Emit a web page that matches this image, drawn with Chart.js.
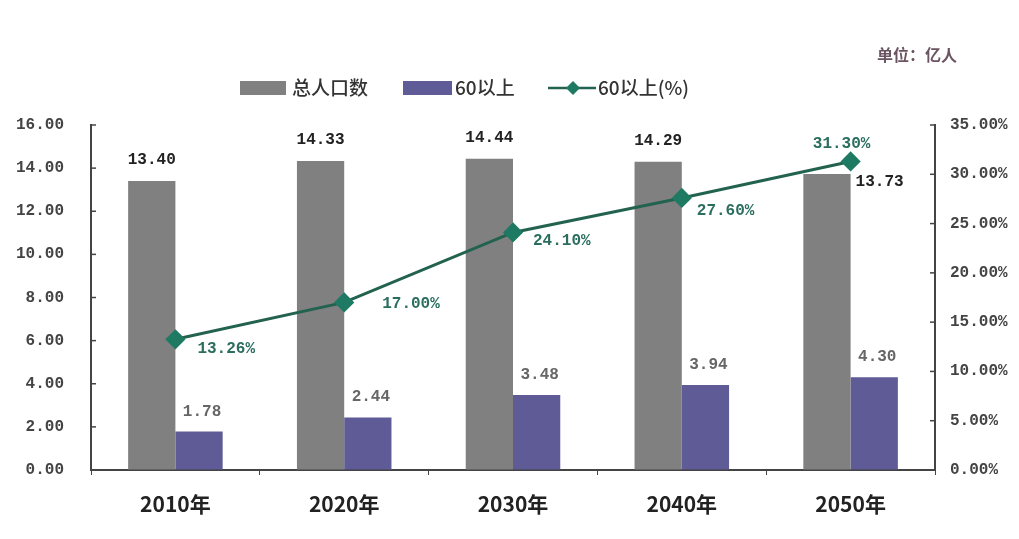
<!DOCTYPE html>
<html lang="zh">
<head>
    <meta charset="UTF-8">
    <title>人口老龄化</title>
    <script src="https://cdn.jsdelivr.net/npm/chart.js"></script>
    <style>
        body { margin: 0; background: #fff; }
        #wrap { width: 1019px; height: 539px; }
    </style>
</head>
<body>
    <div id="wrap">
        <canvas id="grafico" width="1019" height="539"></canvas>
    </div>

    <script>
        // datos
        const categorias = ['2010年', '2020年', '2030年', '2040年', '2050年'];
        const totalPoblacion = [13.40, 14.33, 14.44, 14.29, 13.73];
        const mayores60 = [1.78, 2.44, 3.48, 3.94, 4.30];
        const mayores60Pct = [13.26, 17.00, 24.10, 27.60, 31.30];
        const nombres = ['总人口数', '60以上', '60以上(%)'];
        const unidad = '单位：亿人';

        const GRIS = '#808080';
        const MORADO = '#5e5b97';
        const VERDE = '#22624f';
        const MARCA = '#1f7a63';
        const EJE = '#444';
        const MONO = '"Liberation Mono", "DejaVu Sans Mono", monospace';
        const CJK = '"Noto Sans CJK SC", "Noto Sans", sans-serif';

        // desplazamientos de las etiquetas de la linea (dx, dy, alineacion)
        const offLinea = [[22, 10, 'left'], [38, 2, 'left'], [20, 9, 'left'], [15, 13, 'left'], [-9, -18, 'center']];

        const fondo = {
            id: 'fondo',
            beforeDraw(chart) {
                const c = chart.ctx;
                c.save();
                c.fillStyle = '#fff';
                c.fillRect(0, 0, chart.width, chart.height);
                c.restore();
            }
        };

        // marcas de los ejes Y hacia dentro
        const marcasEjes = {
            id: 'marcasEjes',
            afterDraw(chart) {
                const c = chart.ctx;
                const area = chart.chartArea;
                c.save();
                c.strokeStyle = EJE;
                c.lineWidth = 1.5;
                chart.scales.y.ticks.forEach(t => {
                    const py = chart.scales.y.getPixelForValue(t.value);
                    c.beginPath();
                    c.moveTo(area.left, py);
                    c.lineTo(area.left + 5, py);
                    c.stroke();
                });
                chart.scales.y1.ticks.forEach(t => {
                    const py = chart.scales.y1.getPixelForValue(t.value);
                    c.beginPath();
                    c.moveTo(area.right, py);
                    c.lineTo(area.right - 5, py);
                    c.stroke();
                });
                c.restore();
            }
        };

        // leyenda y unidad dibujadas a mano
        const leyenda = {
            id: 'leyenda',
            afterDraw(chart) {
                const c = chart.ctx;
                c.save();
                c.textBaseline = 'middle';
                c.font = '500 19px ' + CJK;
                c.fillStyle = GRIS;
                c.fillRect(240, 81, 46, 14);
                c.fillStyle = '#333';
                c.fillText(nombres[0], 292, 88);

                c.fillStyle = MORADO;
                c.fillRect(403, 81, 49, 14);
                c.fillStyle = '#333';
                c.fillText(nombres[1], 455, 88);

                c.strokeStyle = VERDE;
                c.lineWidth = 2.5;
                c.beginPath();
                c.moveTo(548, 88);
                c.lineTo(596, 88);
                c.stroke();
                c.fillStyle = MARCA;
                c.beginPath();
                c.moveTo(573, 81); c.lineTo(580, 88); c.lineTo(573, 95); c.lineTo(566, 88);
                c.closePath();
                c.fill();
                c.fillStyle = '#333';
                c.fillText(nombres[2], 598, 88);

                c.font = 'bold 16px ' + CJK;
                c.fillStyle = '#6a5462';
                c.fillText(unidad, 877, 55);
                c.restore();
            }
        };

        // etiquetas de valores
        const etiquetas = {
            id: 'etiquetas',
            afterDatasetsDraw(chart) {
                const c = chart.ctx;
                c.save();
                c.font = 'bold 16px ' + MONO;
                c.textBaseline = 'middle';

                const m0 = chart.getDatasetMeta(0).data;
                m0.forEach((b, i) => {
                    c.fillStyle = '#222';
                    if (i === m0.length - 1) {
                        c.textAlign = 'left';
                        c.fillText(totalPoblacion[i].toFixed(2), b.x + b.width / 2 + 5, b.y + 8);
                    } else {
                        c.textAlign = 'center';
                        c.fillText(totalPoblacion[i].toFixed(2), b.x, b.y - 21);
                    }
                });

                const m1 = chart.getDatasetMeta(1).data;
                m1.forEach((b, i) => {
                    c.fillStyle = '#666';
                    c.textAlign = 'center';
                    c.fillText(mayores60[i].toFixed(2), b.x + 3, b.y - 20);
                });

                const m2 = chart.getDatasetMeta(2).data;
                m2.forEach((p, i) => {
                    const o = offLinea[i];
                    c.fillStyle = '#2b6e5f';
                    c.textAlign = o[2];
                    c.fillText(mayores60Pct[i].toFixed(2) + '%', p.x + o[0], p.y + o[1]);
                });
                c.restore();
            }
        };

        const ctx = document.getElementById('grafico').getContext('2d');
        const grafico = new Chart(ctx, {
            type: 'bar',
            data: {
                labels: categorias,
                datasets: [{
                    label: nombres[0],
                    data: totalPoblacion,
                    backgroundColor: GRIS,
                    yAxisID: 'y',
                    order: 2
                }, {
                    label: nombres[1],
                    data: mayores60,
                    backgroundColor: MORADO,
                    yAxisID: 'y',
                    order: 2
                }, {
                    type: 'line',
                    label: nombres[2],
                    data: mayores60Pct,
                    borderColor: VERDE,
                    borderWidth: 3,
                    pointStyle: 'rectRot',
                    pointRadius: 8,
                    pointBackgroundColor: MARCA,
                    pointBorderColor: MARCA,
                    yAxisID: 'y1',
                    order: 1
                }]
            },
            options: {
                responsive: false,
                animation: false,
                categoryPercentage: 0.56,
                barPercentage: 1.0,
                layout: { padding: { top: 125 } },
                plugins: {
                    legend: { display: false },
                    tooltip: { enabled: false }
                },
                scales: {
                    x: {
                        grid: { drawOnChartArea: false, tickLength: 5, color: EJE },
                        border: { color: EJE, width: 2 },
                        ticks: { color: '#222', padding: 16, font: { family: CJK, size: 21, weight: 'bold' } },
                        afterFit(s) { s.height = 69; }
                    },
                    y: {
                        position: 'left',
                        min: 0,
                        max: 16,
                        ticks: {
                            stepSize: 2,
                            padding: 27,
                            color: '#444',
                            font: { family: MONO, size: 16, weight: 'bold' },
                            callback: v => v.toFixed(2)
                        },
                        grid: { drawOnChartArea: false, drawTicks: false },
                        border: { color: EJE, width: 2 },
                        afterFit(s) { s.width = 91; }
                    },
                    y1: {
                        position: 'right',
                        min: 0,
                        max: 35,
                        ticks: {
                            stepSize: 5,
                            padding: 15,
                            color: '#444',
                            font: { family: MONO, size: 16, weight: 'bold' },
                            callback: v => v.toFixed(2) + '%'
                        },
                        grid: { drawOnChartArea: false, drawTicks: false },
                        border: { color: EJE, width: 2 },
                        afterFit(s) { s.width = 84; }
                    }
                }
            },
            plugins: [fondo, marcasEjes, leyenda, etiquetas]
        });
    </script>
</body>
</html>
